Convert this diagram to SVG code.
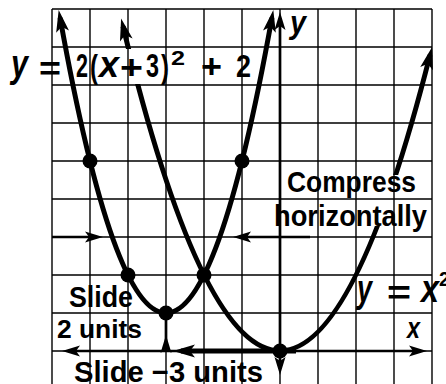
<svg xmlns="http://www.w3.org/2000/svg" width="446" height="384" viewBox="0 0 446 384">
<defs>
<style>
.grid{stroke:#000;stroke-width:1.4;fill:none}
.axis{stroke:#000;stroke-width:2.7;fill:none}
.curve{stroke:#000;stroke-width:5;fill:none}
.ln{stroke:#000;stroke-width:2.7;fill:none}
.thick{stroke:#000;stroke-width:5;fill:none}
.dot{fill:#000}
.t{font-family:"Liberation Sans",Arial,sans-serif;font-weight:bold;fill:#000}
.i{font-style:italic}
</style>
<marker id="ah" markerUnits="userSpaceOnUse" viewBox="-16 -8 26 16" markerWidth="26" markerHeight="16" refX="0" refY="0" orient="auto-start-reverse">
<path d="M8,0 L-14,-6.5 L-9,0 L-14,6.5 Z" fill="#000"/>
</marker>
<marker id="ahs" markerUnits="userSpaceOnUse" viewBox="-14 -7 22 14" markerWidth="22" markerHeight="14" refX="0" refY="0" orient="auto-start-reverse">
<path d="M6,0 L-12,-5.5 L-8,0 L-12,5.5 Z" fill="#000"/>
</marker>
<mask id="gap" maskUnits="userSpaceOnUse" x="0" y="0" width="446" height="384">
<rect width="446" height="384" fill="#fff"/>
<rect x="112" y="49" width="36" height="35" fill="#000"/>
<rect x="366" y="175" width="42" height="51" fill="#000"/>
</mask>
</defs>
<rect width="446" height="384" fill="#fff"/>
<g id="grid">
<path class="grid" d="M52,9V384M90,9V384M128,9V384M166,9V384M204,9V384M242,9V384M280,9V384M318,9V384M356,9V384M394,9V384M432,9V384M52,9H432M52,47H432M52,85H432M52,123H432M52,161H432M52,199H432M52,237H432M52,275H432M52,313H432M52,351H432"/>
</g>
<g id="axes">
<path id="x-axis" class="axis" d="M68,351 H421" marker-start="url(#ahs)" marker-end="url(#ahs)"/>
<path id="y-axis" class="axis" d="M280,369 V18" marker-start="url(#ahs)" marker-end="url(#ahs)"/>
<text class="t i" x="290" y="33" font-size="32" textLength="16" lengthAdjust="spacingAndGlyphs">y</text>
<text class="t i" x="407" y="338" font-size="29" textLength="13" lengthAdjust="spacingAndGlyphs">x</text>
</g>
<g id="curve-x2">
<path class="curve" d="M123,26.3 Q276.5,660.5 430,55" mask="url(#gap)" marker-start="url(#ah)" marker-end="url(#ah)"/>
</g>
<g id="label-x2">
<text class="t i" x="357" y="302" font-size="38" textLength="15" lengthAdjust="spacingAndGlyphs">y</text>
<text class="t" x="387" y="304" font-size="34" textLength="24" lengthAdjust="spacingAndGlyphs">=</text>
<text class="t i" x="421" y="302" font-size="38" textLength="18" lengthAdjust="spacingAndGlyphs">x</text>
<text class="t" x="439" y="286" font-size="20" textLength="11" lengthAdjust="spacingAndGlyphs">2</text>
</g>
<g id="label-eq">
<text class="t i" x="11" y="77" font-size="38" textLength="17" lengthAdjust="spacingAndGlyphs">y</text>
<text class="t" x="39" y="80" font-size="33" textLength="22" lengthAdjust="spacingAndGlyphs">=</text>
<text class="t" x="76" y="77" font-size="33" textLength="12" lengthAdjust="spacingAndGlyphs">2</text>
<text class="t" x="90" y="78" font-size="33" textLength="8" lengthAdjust="spacingAndGlyphs">(</text>
<text class="t i" x="99" y="77" font-size="37" textLength="20" lengthAdjust="spacingAndGlyphs">x</text>
<text class="t" x="120" y="79" font-size="34" textLength="23" lengthAdjust="spacingAndGlyphs">+</text>
<text class="t" x="146" y="77" font-size="33" textLength="13" lengthAdjust="spacingAndGlyphs">3</text>
<text class="t" x="161" y="78" font-size="33" textLength="8" lengthAdjust="spacingAndGlyphs">)</text>
<text class="t" x="171" y="65" font-size="20" textLength="14" lengthAdjust="spacingAndGlyphs">2</text>
<text class="t" x="201" y="78" font-size="33" textLength="21" lengthAdjust="spacingAndGlyphs">+</text>
<text class="t" x="236" y="77" font-size="32" textLength="15" lengthAdjust="spacingAndGlyphs">2</text>
</g>
<g id="curve-shifted">
<path class="curve" d="M60.1,17.9 Q166,608.2 271.9,17.9" marker-start="url(#ah)" marker-end="url(#ah)"/>
</g>
<g id="label-compress">
<text class="t" x="287" y="191.5" font-size="30" textLength="129" lengthAdjust="spacingAndGlyphs">Compress</text>
<text class="t" x="274" y="226" font-size="29" textLength="153" lengthAdjust="spacingAndGlyphs">horizontally</text>
</g>
<g id="label-slide2">
<text class="t" x="69" y="307" font-size="29" textLength="64" lengthAdjust="spacingAndGlyphs">Slide</text>
<text class="t" x="57" y="338" font-size="26" textLength="85" lengthAdjust="spacingAndGlyphs">2 units</text>
</g>
<g id="label-slide3">
<text class="t" x="74" y="382" font-size="29" textLength="189" lengthAdjust="spacingAndGlyphs">Slide −3 units</text>
</g>
<g id="connectors">
<path class="ln" d="M52,237 H97" marker-end="url(#ahs)"/>
<path class="ln" d="M310,237 H239" marker-end="url(#ahs)"/>
<path class="thick" d="M296,351 H181" marker-end="url(#ah)"/>
<path class="ln" d="M166,351 V341 V316" marker-mid="url(#ahs)"/>
</g>
<g id="points">
<circle class="dot" cx="90" cy="161" r="7.5"/>
<circle class="dot" cx="242" cy="161" r="7.5"/>
<circle class="dot" cx="128" cy="275" r="7.5"/>
<circle class="dot" cx="204" cy="275" r="7.5"/>
<circle class="dot" cx="166" cy="313" r="7.5"/>
<circle class="dot" cx="280" cy="351" r="7.5"/>
</g>
</svg>
